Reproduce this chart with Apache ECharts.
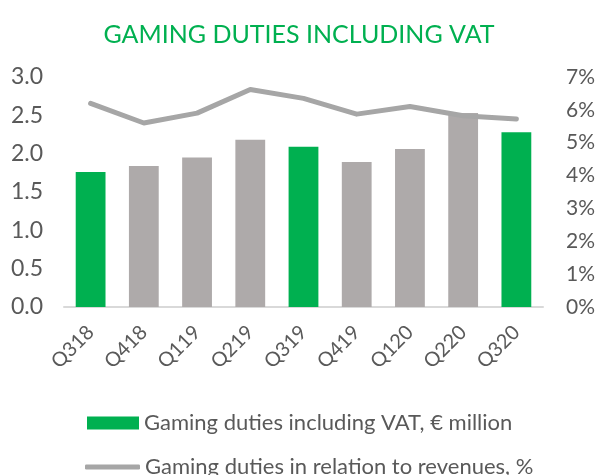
<!DOCTYPE html>
<html><head><meta charset="utf-8">
<script src="https://cdn.jsdelivr.net/npm/echarts@6/dist/echarts.min.js"></script>
<style>html,body{margin:0;padding:0;background:#fff}#c{width:598px;height:475px}</style>
</head><body><div id="c"></div>
<script>
const categories = ['Q318','Q418','Q119','Q219','Q319','Q419','Q120','Q220','Q320'];
const dutiesMillion = [1.76, 1.84, 1.95, 2.18, 2.09, 1.89, 2.06, 2.53, 2.28];
const dutiesPctRevenue = [6.2, 5.6, 5.9, 6.62, 6.35, 5.87, 6.1, 5.82, 5.72];
const highlightQuarter = [true, false, false, false, true, false, false, false, true];
const leftTicks = [0, 0.5, 1.0, 1.5, 2.0, 2.5, 3.0];
const rightTicks = [0, 1, 2, 3, 4, 5, 6, 7];

const GREEN = '#00B050', GREY = '#AEAAAA', LINE = '#A6A6A6', TXT = '#595959';
const FONT = 'Lato, "Open Sans", sans-serif';
const chart = echarts.init(document.getElementById('c'));
chart.setOption({
  animation: false,
  title: { text: 'GAMING DUTIES INCLUDING VAT', left: 'center', top: 17,
    textStyle: { color: GREEN, fontSize: 25, fontWeight: 'normal', fontFamily: FONT } },
  grid: { left: 64, right: 55, top: 77, bottom: 168 },
  legend: [
    { data: [{ name: 'Gaming duties including VAT, € million', icon: 'rect' }],
      left: 82, top: 407, itemWidth: 52, itemHeight: 13, itemGap: 5,
      textStyle: { color: TXT, fontSize: 22, fontFamily: FONT } },
    { data: [{ name: 'Gaming duties in relation to revenues, %', icon: 'roundRect' }],
      left: 80, top: 451, itemWidth: 55, itemHeight: 5, itemGap: 4,
      textStyle: { color: TXT, fontSize: 22, fontFamily: FONT } }
  ],
  xAxis: { type: 'category', data: categories,
    axisLine: { lineStyle: { color: '#D9D9D9', width: 2 } },
    axisTick: { show: false },
    axisLabel: { rotate: 45, color: TXT, fontSize: 20, fontFamily: FONT, margin: 22 } },
  yAxis: [
    { type: 'value', min: 0, max: 3, interval: 0.5, splitLine: { show: false },
      axisLabel: { color: TXT, fontSize: 23, fontFamily: FONT, margin: 21,
        formatter: v => leftTicks.includes(+v.toFixed(1)) ? v.toFixed(1) : '' } },
    { type: 'value', min: 0, max: 7, interval: 1, splitLine: { show: false },
      axisLabel: { color: TXT, fontSize: 21, fontFamily: FONT, margin: 23,
        formatter: v => rightTicks.includes(v) ? v + '%' : '' } }
  ],
  series: [
    { name: 'Gaming duties including VAT, € million', type: 'bar', yAxisIndex: 0,
      barWidth: '56%', itemStyle: { color: GREEN },
      data: dutiesMillion.map((v, i) => ({ value: v, itemStyle: { color: highlightQuarter[i] ? GREEN : GREY } })) },
    { name: 'Gaming duties in relation to revenues, %', type: 'line', yAxisIndex: 1,
      data: dutiesPctRevenue, symbol: 'none', z: 3,
      lineStyle: { color: LINE, width: 5, cap: 'round', join: 'round' }, itemStyle: { color: LINE } }
  ]
});
</script></body></html>
